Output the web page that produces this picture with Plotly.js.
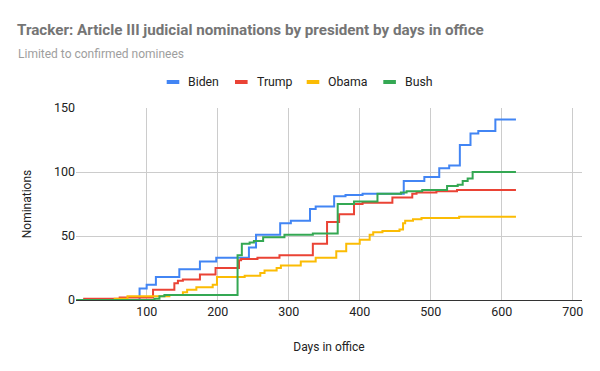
<!DOCTYPE html>
<html>
<head>
<meta charset="utf-8">
<script src="https://cdn.plot.ly/plotly-3.0.1.min.js"></script>
<style>html,body{margin:0;padding:0;background:#fff;}#chart{width:600px;height:371px;}</style>
</head>
<body>
<div id="chart"></div>
<script>
const bidenDays = [1, 90, 100, 113, 146, 175, 198, 244, 254, 288, 303, 330, 338, 364, 380, 404, 462, 491, 512, 526, 541, 556, 567, 591, 620];
const bidenNoms = [0, 9, 12, 18, 24, 30, 33, 41, 51, 60, 62, 71, 73, 81, 82, 83, 93, 96, 103, 105, 121, 130, 132, 141, 141];

const trumpDays = [1, 12, 62, 109, 139, 144, 151, 175, 197, 230, 233, 256, 287, 334, 354, 371, 392, 404, 446, 474, 480, 508, 537, 620];
const trumpNoms = [0, 1, 2, 8, 13, 15, 16, 20, 25, 31, 32, 33, 35, 44, 61, 67, 75, 76, 80, 83, 84, 85, 86, 86];

const obamaDays = [1, 55, 73, 132, 151, 157, 170, 193, 199, 238, 260, 266, 283, 289, 317, 338, 367, 381, 400, 414, 419, 432, 456, 461, 464, 475, 487, 540, 620];
const obamaNoms = [0, 1, 3, 4, 6, 8, 10, 12, 18, 19, 21, 23, 25, 27, 30, 33, 38, 44, 47, 51, 53, 54, 55, 60, 62, 63, 64, 65, 65];

const bushDays = [1, 111, 118, 125, 228, 234, 245, 251, 264, 294, 334, 369, 392, 404, 425, 458, 466, 488, 523, 538, 545, 552, 559, 620];
const bushNoms = [0, 1, 3, 4, 35, 44, 45, 46, 49, 51, 52, 75, 77, 77, 83, 84, 85, 86, 89, 90, 93, 95, 100, 100];

const seriesNames = ["Biden", "Trump", "Obama", "Bush"];
const seriesColors = ["#4285F4", "#EA4335", "#FBBC04", "#34A853"];
const xTicks = [100, 200, 300, 400, 500, 600, 700];
const yTicks = [0, 50, 100, 150];

const xs = [bidenDays, trumpDays, obamaDays, bushDays];
const ys = [bidenNoms, trumpNoms, obamaNoms, bushNoms];

const traces = seriesNames.map((n, i) => ({
  type: "scatter", mode: "lines", name: n,
  x: xs[i], y: ys[i],
  line: {color: seriesColors[i], width: 2, shape: "hv"},
  showlegend: false
}));

// plot area geometry (pixels) for placing the custom legend
const L = 76, R = 582, T = 108, B = 300;
const px2x = p => (p - L) / (R - L);
const px2y = p => (B - p) / (B - T);

const font = "Roboto, Arial, sans-serif";
const legendSwatchLeft = [166.7, 235, 306.7, 383.3];
const legendY = 82;
const shapes = [];
const annotations = [{
  text: "Limited to confirmed nominees",
  xref: "paper", yref: "paper", x: px2x(16), y: px2y(54),
  xanchor: "left", yanchor: "middle", showarrow: false,
  font: {family: font, size: 12, color: "#9e9e9e"}
}];
seriesNames.forEach((n, i) => {
  const x0 = legendSwatchLeft[i];
  shapes.push({
    type: "rect", xref: "paper", yref: "paper",
    x0: px2x(x0), x1: px2x(x0 + 12.6), y0: px2y(legendY + 2), y1: px2y(legendY - 2),
    fillcolor: seriesColors[i], line: {width: 0}
  });
  annotations.push({
    text: n, xref: "paper", yref: "paper", x: px2x(x0 + 19.6), y: px2y(legendY),
    xanchor: "left", yanchor: "middle", showarrow: false,
    font: {family: font, size: 12.3, color: "#222"}
  });
});

const layout = {
  width: 600, height: 371,
  margin: {l: L, r: 600 - R, t: T, b: 371 - B},
  paper_bgcolor: "#fff", plot_bgcolor: "#fff",
  font: {family: font, size: 12, color: "#222"},
  title: {
    text: "Tracker: Article III judicial nominations by president by days in office",
    font: {family: font, size: 15.2, color: "#757575", weight: 700},
    xref: "container", x: 17/600, xanchor: "left",
    yref: "container", y: 1 - 30/371, yanchor: "middle"
  },
  annotations: annotations,
  shapes: shapes,
  showlegend: false,
  xaxis: {
    range: [0.5, 713], tickvals: xTicks, ticktext: xTicks.map(String),
    showgrid: true, gridcolor: "#cccccc", gridwidth: 1,
    zeroline: false, showline: true, linecolor: "#333", linewidth: 1,
    ticks: "", tickfont: {family: font, size: 12.5, color: "#222"},
    title: {text: "Days in office", font: {family: font, size: 12, color: "#222"}, standoff: 24}
  },
  yaxis: {
    range: [0, 150], tickvals: yTicks, ticktext: yTicks.map(String),
    showgrid: true, gridcolor: "#cccccc", gridwidth: 1,
    zeroline: false, showline: false, ticks: "",
    tickfont: {family: font, size: 12.5, color: "#222"},
    title: {text: "Nominations", font: {family: font, size: 12, color: "#222"}, standoff: 19}
  }
};

Plotly.newPlot("chart", traces, layout, {displayModeBar: false, staticPlot: true});
</script>
</body>
</html>
